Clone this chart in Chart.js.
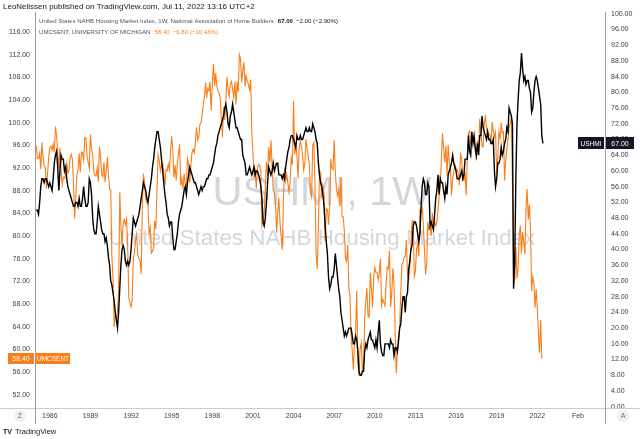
<!DOCTYPE html>
<html>
<head>
<meta charset="utf-8">
<script src="https://cdn.jsdelivr.net/npm/chart.js@4.4.1/dist/chart.umd.min.js"></script>
<style>
  html, body { margin: 0; padding: 0; background: #fff; }
  #wrap { width: 640px; height: 439px; }
</style>
</head>
<body>
<div id="wrap"><canvas id="chart" width="640" height="439"></canvas></div>
<script>
// both series are monthly, starting January 1985
const startYear = 1985;

// NAHB housing market index (right axis)
const ushmi = [
  50, 50, 49, 52, 56, 58, 58, 57, 58, 58, 57, 56, // 1985
  57, 56, 55, 58, 62, 64, 65, 61, 55, 60, 64, 63, // 1986
  63, 60, 61, 58, 56, 55, 54, 53, 52, 51, 51, 52, // 1987
  52, 51, 53, 51, 51, 53, 56, 53, 51, 51, 52, 58, // 1988
  57, 54, 48, 45, 44, 44, 47, 51, 49, 47, 45, 44, // 1989
  44, 42, 43, 41, 38, 36, 32, 31, 29, 27, 24, 22, // 1990
  20, 24, 30, 36, 40, 41, 40, 37, 36, 37, 36, 37, // 1991
  40, 44, 48, 47, 46, 47, 48, 49, 51, 53, 55, 57, // 1992
  56, 55, 53, 52, 54, 56, 58, 61, 63, 66, 68, 70, // 1993
  70, 68, 66, 63, 60, 57, 54, 52, 49, 48, 46, 47, // 1994
  47, 43, 40, 40, 42, 44, 47, 49, 50, 51, 53, 55, // 1995
  56, 54, 57, 59, 61, 60, 59, 58, 57, 57, 56, 55, // 1996
  54, 55, 56, 55, 56, 56, 57, 58, 58, 59, 59, 60, // 1997
  61, 62, 64, 66, 67, 69, 70, 71, 72, 73, 74, 76, // 1998
  77, 75, 72, 71, 74, 75, 77, 75, 73, 71, 71, 70, // 1999
  69, 68, 68, 64, 63, 62, 59, 59, 60, 61, 60, 59, // 2000
  60, 61, 59, 60, 60, 59, 58, 56, 53, 47, 46, 48, // 2001
  52, 57, 61, 60, 59, 60, 62, 60, 61, 62, 62, 59, // 2002
  59, 59, 58, 59, 58, 61, 63, 65, 66, 68, 69, 69, // 2003
  68, 67, 66, 69, 68, 68, 69, 68, 68, 69, 70, 71, // 2004
  70, 70, 71, 70, 70, 72, 71, 70, 68, 67, 62, 59, // 2005
  57, 56, 54, 51, 46, 42, 39, 33, 30, 31, 33, 33, // 2006
  35, 39, 36, 33, 30, 28, 24, 22, 20, 18, 19, 18, // 2007
  19, 20, 20, 20, 18, 16, 16, 18, 17, 14, 9, 8,   // 2008
  8, 9, 9, 14, 16, 15, 17, 18, 19, 17, 17, 16,    // 2009
  15, 17, 15, 19, 22, 16, 14, 13, 13, 16, 16, 16, // 2010
  16, 15, 17, 16, 16, 13, 15, 15, 14, 17, 20, 21, // 2011
  25, 28, 28, 24, 28, 29, 35, 37, 40, 41, 46, 47, // 2012
  47, 46, 44, 42, 44, 51, 56, 58, 57, 54, 54, 57, // 2013
  56, 46, 47, 46, 45, 49, 53, 55, 59, 54, 58, 57, // 2014
  57, 55, 53, 56, 54, 59, 60, 61, 62, 64, 62, 61, // 2015
  60, 58, 58, 58, 59, 60, 58, 59, 63, 63, 63, 69, // 2016
  65, 64, 70, 67, 69, 66, 64, 67, 64, 69, 69, 74, // 2017
  71, 70, 69, 68, 70, 68, 68, 67, 67, 68, 60, 56, // 2018
  58, 62, 62, 63, 66, 64, 65, 67, 68, 71, 70, 76, // 2019
  75, 74, 72, 30, 37, 58, 72, 78, 83, 85, 90, 86, // 2020
  83, 84, 82, 83, 83, 81, 80, 75, 76, 80, 83, 84, // 2021
  83, 81, 79, 77, 69, 67                          // 2022
];

// University of Michigan consumer sentiment (left axis)
const umcsent = [
  96.0, 93.7, 93.7, 94.6, 91.8, 96.5, 94.0, 92.4, 92.1, 88.4, 90.9, 93.9,        // 1985
  95.6, 95.9, 95.1, 96.2, 94.8, 99.3, 97.7, 94.9, 91.9, 95.6, 91.4, 89.1,        // 1986
  90.4, 90.2, 90.8, 92.8, 91.1, 91.5, 93.7, 94.4, 93.6, 89.3, 83.1, 86.8,        // 1987
  90.8, 91.6, 94.6, 91.2, 94.8, 94.7, 93.4, 97.4, 97.3, 94.1, 93.0, 91.9,        // 1988
  97.9, 95.4, 94.3, 91.5, 90.7, 90.6, 92.0, 89.6, 95.8, 93.9, 90.9, 90.5,        // 1989
  93.0, 89.5, 91.3, 93.9, 90.6, 88.3, 88.2, 76.4, 72.8, 63.9, 66.0, 65.5,        // 1990
  66.8, 70.4, 87.7, 81.8, 78.3, 82.1, 82.9, 82.0, 83.0, 78.3, 69.1, 68.2,        // 1991
  67.5, 68.8, 76.0, 77.2, 79.2, 80.4, 76.6, 76.1, 75.6, 73.3, 85.3, 91.0,        // 1992
  89.3, 86.6, 85.9, 85.6, 80.3, 81.5, 77.0, 77.3, 77.9, 82.7, 81.2, 88.2,        // 1993
  94.3, 93.2, 91.5, 92.6, 92.8, 91.2, 89.0, 91.7, 91.5, 92.7, 91.6, 95.1,        // 1994
  97.6, 95.1, 90.3, 92.5, 89.8, 92.7, 94.4, 96.2, 88.9, 90.2, 88.2, 91.0,        // 1995
  89.3, 88.5, 93.7, 92.7, 89.4, 92.4, 94.7, 95.3, 94.7, 96.5, 99.2, 96.9,        // 1996
  97.4, 99.7, 100.0, 101.4, 103.2, 104.5, 107.1, 104.4, 106.0, 105.6, 107.2, 102.1, // 1997
  106.6, 110.4, 106.5, 108.7, 106.5, 105.6, 105.2, 104.4, 100.9, 97.4, 102.7, 100.5, // 1998
  103.9, 108.1, 105.7, 104.6, 106.8, 107.3, 106.0, 104.5, 107.2, 103.2, 107.2, 105.4, // 1999
  112.0, 111.3, 107.1, 109.2, 110.7, 106.4, 108.3, 107.3, 106.8, 105.8, 107.6, 98.4, // 2000
  94.7, 90.6, 91.5, 88.4, 92.0, 92.6, 92.4, 91.5, 81.8, 82.7, 83.9, 88.8,        // 2001
  93.0, 90.7, 95.7, 93.0, 96.9, 92.4, 88.1, 87.6, 86.1, 80.6, 84.2, 86.7,        // 2002
  82.4, 79.9, 77.6, 86.0, 92.1, 89.7, 90.9, 89.3, 87.7, 89.6, 93.7, 92.6,        // 2003
  103.8, 94.4, 95.8, 94.2, 90.2, 95.6, 96.7, 95.9, 94.2, 91.7, 92.8, 97.1,       // 2004
  95.5, 94.1, 92.6, 87.7, 86.9, 96.0, 96.5, 89.1, 76.9, 74.2, 81.6, 91.5,        // 2005
  91.2, 86.7, 88.9, 87.4, 79.1, 84.9, 84.7, 82.0, 85.4, 93.6, 92.1, 91.7,        // 2006
  96.9, 91.3, 88.4, 87.1, 88.3, 85.3, 90.4, 83.4, 83.4, 80.9, 76.1, 75.5,        // 2007
  78.4, 70.8, 69.5, 62.6, 59.8, 56.4, 61.2, 63.0, 70.3, 57.6, 55.3, 60.1,        // 2008
  61.2, 56.3, 57.3, 65.1, 68.7, 70.8, 66.0, 65.7, 73.5, 70.6, 67.4, 72.5,        // 2009
  74.4, 73.6, 73.6, 72.2, 73.6, 76.0, 67.8, 68.9, 68.2, 67.7, 71.6, 74.5,        // 2010
  74.2, 77.5, 67.5, 69.8, 74.3, 71.5, 63.7, 55.8, 59.5, 60.8, 63.7, 69.9,        // 2011
  75.0, 75.3, 76.2, 76.4, 79.3, 73.2, 72.3, 74.3, 78.3, 82.6, 82.7, 72.9,        // 2012
  73.8, 77.6, 78.6, 76.4, 84.5, 84.1, 85.1, 82.1, 77.5, 73.2, 75.1, 82.5,        // 2013
  81.2, 81.6, 80.0, 84.1, 81.9, 82.5, 81.8, 82.5, 84.6, 86.9, 88.8, 93.6,        // 2014
  98.1, 95.4, 93.0, 95.9, 90.7, 96.1, 93.1, 91.9, 87.2, 90.0, 91.3, 92.6,        // 2015
  92.0, 91.7, 91.0, 89.0, 94.7, 93.5, 90.0, 89.8, 91.2, 87.2, 93.8, 98.2,        // 2016
  98.5, 96.3, 96.9, 97.0, 97.1, 95.0, 93.4, 96.8, 95.1, 100.7, 98.5, 95.9,       // 2017
  95.7, 99.7, 101.4, 98.8, 98.0, 98.2, 97.9, 96.2, 100.1, 98.6, 97.5, 98.3,      // 2018
  91.2, 93.8, 98.4, 97.2, 100.0, 98.2, 98.4, 89.8, 93.2, 95.5, 96.8, 99.3,       // 2019
  99.8, 101.0, 89.1, 71.8, 72.3, 78.1, 72.5, 74.1, 80.4, 81.8, 76.9, 80.7,       // 2020
  79.0, 76.8, 84.9, 88.3, 82.9, 85.5, 81.2, 70.3, 72.8, 71.7, 67.4, 70.6,        // 2021
  67.2, 62.8, 59.4, 65.2, 58.4                                                   // 2022
];

const yearTicks  = [1986, 1989, 1992, 1995, 1998, 2001, 2004, 2007, 2010, 2013, 2016, 2019, 2022, 2025];
const yearLabels = ['1986', '1989', '1992', '1995', '1998', '2001', '2004', '2007', '2010', '2013', '2016', '2019', '2022', 'Feb'];
const leftTicks  = [52, 56, 60, 64, 68, 72, 76, 80, 84, 88, 92, 96, 100, 104, 108, 112, 116];
const rightTicks = [0, 4, 8, 12, 16, 20, 24, 28, 32, 36, 40, 44, 48, 52, 56, 60, 64, 68, 72, 76, 80, 84, 88, 92, 96, 100];

const FONT = '"Liberation Sans", Arial, sans-serif';
const ORANGE = '#fb7d18';
const INK = '#131722';
const AXIS_TEXT = '#3e414a';

function toPoints(values) {
  return values.map((v, i) => ({ x: startYear + i / 12, y: v }));
}

// font size that makes a text span a given width
function fitSize(ctx, text, width, weight) {
  ctx.font = (weight || '') + ' 10px ' + FONT;
  return 10 * width / ctx.measureText(text).width;
}

// draws consecutive text pieces on one line
function drawRuns(ctx, x, y, size, runs) {
  runs.forEach((r) => {
    ctx.font = (r.bold ? '600 ' : '') + size + 'px ' + FONT;
    ctx.fillStyle = r.color;
    ctx.fillText(r.text, x, y);
    x += ctx.measureText(r.text).width + (r.gap || 0);
  });
}

function badge(ctx, x, w, yc, h, fill, text, size) {
  ctx.fillStyle = fill;
  ctx.fillRect(x, Math.round(yc - h / 2), w, h);
  ctx.fillStyle = '#ffffff';
  ctx.font = size + 'px ' + FONT;
  ctx.textAlign = 'center';
  ctx.textBaseline = 'middle';
  ctx.fillText(text, x + w / 2, yc + 0.5);
  ctx.textAlign = 'left';
  ctx.textBaseline = 'alphabetic';
}

function circleLetter(ctx, x, y, letter) {
  ctx.beginPath();
  ctx.arc(x, y, 6, 0, Math.PI * 2);
  ctx.fillStyle = '#eef0f4';
  ctx.fill();
  ctx.fillStyle = '#6a6d78';
  ctx.font = '7px ' + FONT;
  ctx.textAlign = 'center';
  ctx.textBaseline = 'middle';
  ctx.fillText(letter, x, y + 0.5);
  ctx.textAlign = 'left';
  ctx.textBaseline = 'alphabetic';
}

const tvDecor = {
  id: 'tvDecor',
  beforeDatasetsDraw(chart) {
    const ctx = chart.ctx;
    ctx.save();
    ctx.fillStyle = '#d4d6db';
    ctx.textAlign = 'center';
    let s = fitSize(ctx, 'USHMI, 1W', 219);
    ctx.font = s + 'px ' + FONT;
    ctx.fillText('USHMI, 1W', 322, 205);
    s = fitSize(ctx, 'United States NAHB Housing Market Index', 427);
    ctx.font = s + 'px ' + FONT;
    ctx.fillText('United States NAHB Housing Market Index', 322, 245);
    ctx.restore();
  },
  afterDraw(chart) {
    const ctx = chart.ctx;
    const area = chart.chartArea;
    ctx.save();

    // pane frame
    ctx.strokeStyle = '#c9cbd0';
    ctx.lineWidth = 1;
    ctx.beginPath();
    ctx.moveTo(0, area.bottom + 0.5);
    ctx.lineTo(640, area.bottom + 0.5);
    ctx.stroke();
    ctx.strokeStyle = '#9a9da6';
    ctx.beginPath();
    ctx.moveTo(area.left + 0.5, area.top - 2);
    ctx.lineTo(area.left + 0.5, 424);
    ctx.moveTo(area.right + 0.5, area.top - 2);
    ctx.lineTo(area.right + 0.5, 424);
    ctx.stroke();

    // header and legend
    ctx.textBaseline = 'alphabetic';
    const hs = fitSize(ctx, 'LeoNelissen published on TradingView.com, Jul 11, 2022 13:16 UTC+2', 252);
    ctx.font = hs + 'px ' + FONT;
    ctx.fillStyle = INK;
    ctx.fillText('LeoNelissen published on TradingView.com, Jul 11, 2022 13:16 UTC+2', 3, 9);

    const line1 = 'United States NAHB Housing Market Index, 1W, National Association of Home Builders';
    const ls = fitSize(ctx, line1, 235);
    drawRuns(ctx, 39, 23, ls, [
      { text: line1, color: '#50535e', gap: 4 },
      { text: '67.00', color: INK, bold: true, gap: 3 },
      { text: '\u22122.00 (\u22122.90%)', color: INK }
    ]);
    drawRuns(ctx, 39, 34, ls, [
      { text: 'UMCSENT, UNIVERSITY OF MICHIGAN', color: '#50535e', gap: 4 },
      { text: '58.40', color: ORANGE, gap: 3 },
      { text: '\u22126.80 (\u221210.43%)', color: ORANGE }
    ]);

    // last value badges
    const yR = chart.scales.yR.getPixelForValue(ushmi[ushmi.length - 1]);
    badge(ctx, 578, 26, yR, 12, INK, 'USHMI', 6.5);
    badge(ctx, 606, 28, yR, 12, INK, '67.00', 7);
    const yL = chart.scales.yL.getPixelForValue(umcsent[umcsent.length - 1]);
    badge(ctx, 8, 26, yL, 11, ORANGE, '58.40', 7);
    badge(ctx, 36, 34, yL, 11, ORANGE, 'UMCSENT', 6.5);

    // corner buttons and logo
    circleLetter(ctx, 20, 416, 'Z');
    circleLetter(ctx, 623, 416, 'A');
    ctx.fillStyle = INK;
    ctx.font = 'bold 7px ' + FONT;
    ctx.fillText('TV', 3, 434);
    ctx.font = '7.5px ' + FONT;
    ctx.fillText('TradingView', 15, 434);
    ctx.restore();
  }
};

const tickFont = { family: FONT, size: 7 };

new Chart(document.getElementById('chart'), {
  type: 'line',
  data: {
    datasets: [
      {
        label: 'USHMI',
        data: toPoints(ushmi),
        yAxisID: 'yR',
        borderColor: '#000000',
        borderWidth: 1.4,
        pointRadius: 0,
        tension: 0,
        order: 0
      },
      {
        label: 'UMCSENT',
        data: toPoints(umcsent),
        yAxisID: 'yL',
        borderColor: ORANGE,
        borderWidth: 1.1,
        pointRadius: 0,
        tension: 0,
        order: 1
      }
    ]
  },
  options: {
    responsive: false,
    animation: false,
    layout: { padding: { top: 14, left: 0, right: 0, bottom: 0 } },
    plugins: { legend: { display: false }, tooltip: { enabled: false } },
    scales: {
      x: {
        type: 'linear',
        min: 1984.907,
        max: 2027.0,
        grid: { display: false, drawTicks: false },
        border: { display: false },
        afterFit: (s) => { s.height = 31; },
        afterBuildTicks: (s) => { s.ticks = yearTicks.map((v) => ({ value: v })); },
        ticks: {
          callback: (v, i) => yearLabels[i],
          font: tickFont,
          color: AXIS_TEXT,
          padding: 4,
          maxRotation: 0,
          autoSkip: false
        }
      },
      yL: {
        position: 'left',
        min: 49.65,
        max: 119.18,
        grid: { display: false, drawTicks: false },
        border: { display: false },
        afterFit: (s) => { s.width = 35; },
        afterBuildTicks: (s) => { s.ticks = leftTicks.map((v) => ({ value: v })); },
        ticks: { callback: (v) => v.toFixed(2), font: tickFont, color: AXIS_TEXT, padding: 5 }
      },
      yR: {
        position: 'right',
        min: -0.33,
        max: 99.94,
        grid: { display: false, drawTicks: false },
        border: { display: false },
        afterFit: (s) => { s.width = 35; },
        afterBuildTicks: (s) => { s.ticks = rightTicks.map((v) => ({ value: v })); },
        ticks: { callback: (v) => v.toFixed(2), font: tickFont, color: AXIS_TEXT, padding: 6 }
      }
    }
  },
  plugins: [tvDecor]
});
</script>
</body>
</html>
